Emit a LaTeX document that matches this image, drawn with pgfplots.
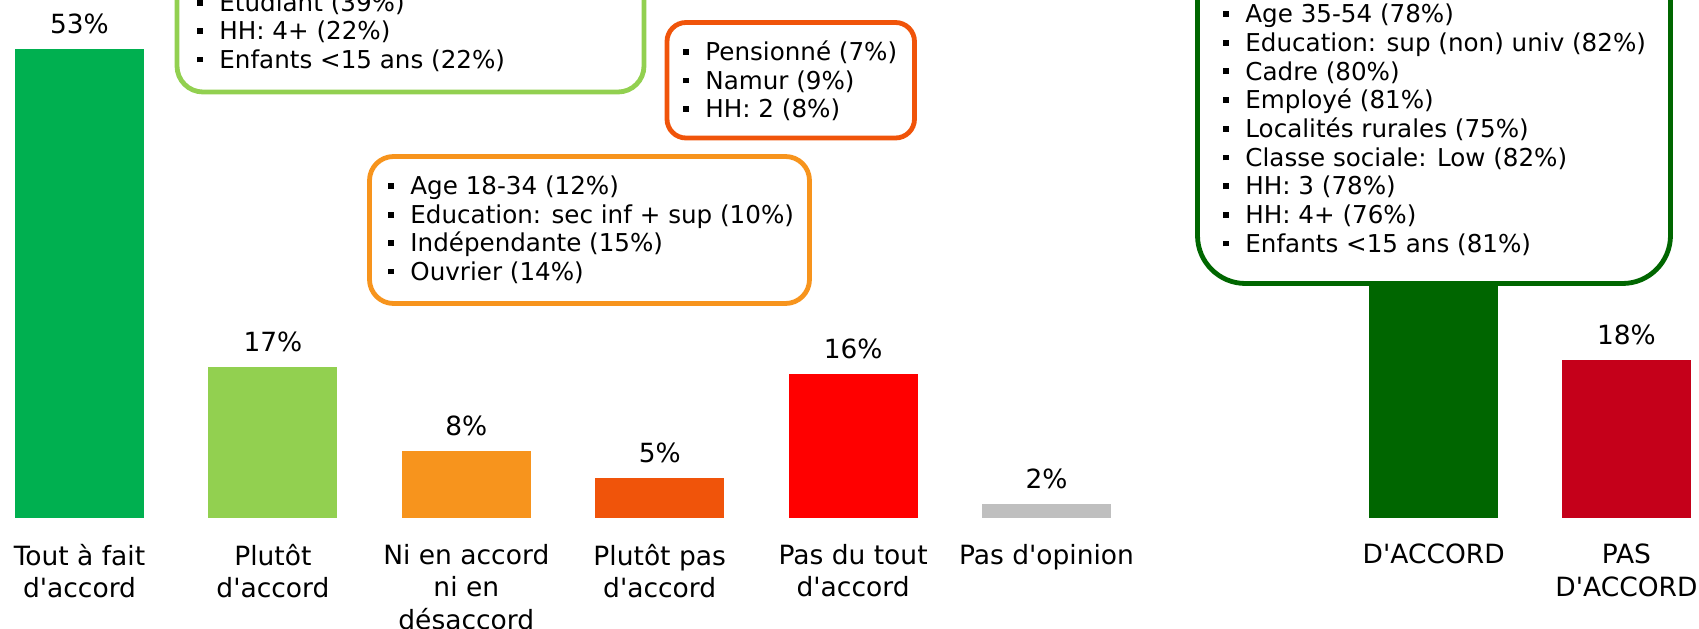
\documentclass[border=0pt]{standalone}
\usepackage{fontspec}
\setmainfont{DejaVu Sans}[Ligatures=TeXOff]
\usepackage{pgfplots}
\pgfplotsset{compat=1.18}
\definecolor{gA}{HTML}{00B050}
\definecolor{gB}{HTML}{92D050}
\definecolor{oA}{HTML}{F7941D}
\definecolor{oB}{HTML}{F0540A}
\definecolor{rA}{HTML}{FF0000}
\definecolor{gr}{HTML}{BFBFBF}
\definecolor{dg}{HTML}{006600}
\definecolor{dr}{HTML}{C5001A}
\newcommand{\bul}{\makebox[11pt][l]{\raisebox{2.9pt}{\rule{2.9pt}{2.9pt}}}}
\newcommand{\bx}{\fontsize{12.3}{14.2}\selectfont}
\pgfplotsset{
  barstyle/.style={
    ybar, bar width=64.5pt,
    scale only axis, height=259pt, ymin=0, ymax=58.54,
    axis line style={draw=none}, major tick length=0pt, ytick=\empty,
    point meta=explicit symbolic,
    nodes near coords={\pgfplotspointmeta\%},
    every node near coord/.append style={font=\fontsize{13.2}{15}\selectfont, text=black, yshift=4.2pt},
    xticklabel style={font=\fontsize{13.25}{16.25}\selectfont, align=center, anchor=north, yshift=-9.4pt, text=black},
    clip=false,
  }
}
\begin{document}
\begin{tikzpicture}
\path[use as bounding box] (0pt,0pt) rectangle (849.5pt,314pt);
\clip (0pt,0pt) rectangle (849.5pt,314pt);
% left chart
\begin{axis}[barstyle, at={(-8.6pt,55pt)}, anchor=south west, width=580.2pt,
  xmin=-0.5, xmax=5.5, xtick={0,1,2,3,4,5},
  xticklabels={{Tout à fait\\d'accord},{Plutôt\\d'accord},{Ni en accord\\ni en\\désaccord},{Plutôt pas\\d'accord},{Pas du tout\\d'accord},{Pas d'opinion}}]
\addplot[fill=gA, draw=none, bar shift=0pt] coordinates {(0,53) [53]};
\addplot[fill=gB, draw=none, bar shift=0pt] coordinates {(1,17.06) [17]};
\addplot[fill=oA, draw=none, bar shift=0pt] coordinates {(2,7.55) [8]};
\addplot[fill=oB, draw=none, bar shift=0pt] coordinates {(3,4.5) [5]};
\addplot[fill=rA, draw=none, bar shift=0pt] coordinates {(4,16.25) [16]};
\addplot[fill=gr, draw=none, bar shift=0pt] coordinates {(5,1.58) [2]};
\end{axis}
% right chart
\begin{axis}[barstyle, at={(668.675pt,55pt)}, anchor=south west, width=192.7pt,
  xmin=-0.5, xmax=1.5, xtick={0,1},
  xticklabels={{D'ACCORD},{PAS\\D'ACCORD}}]
\addplot[fill=dg, draw=none, bar shift=0pt] coordinates {(0,70) [70]};
\addplot[fill=dr, draw=none, bar shift=0pt] coordinates {(1,17.85) [18]};
\end{axis}
% boxes
\begin{scope}[x=0.5pt,y=0.5pt]
\draw[gB, line width=2.4pt, rounded corners=13pt, fill=white] (177,536) rectangle (644,730);
\node[anchor=base west, inner sep=0pt, font=\bx] at (197,616.5) {\bul Etudiant (39\%)};
\node[anchor=base west, inner sep=0pt, font=\bx] at (197,588.1) {\bul HH: 4+ (22\%)};
\node[anchor=base west, inner sep=0pt, font=\bx] at (197,559.7) {\bul Enfants <15 ans (22\%)};

\draw[oB, line width=2.4pt, rounded corners=9.5pt, fill=white] (667,490) rectangle (914.5,605.5);
\node[anchor=base west, inner sep=0pt, font=\bx] at (683,567.3) {\bul Pensionné (7\%)};
\node[anchor=base west, inner sep=0pt, font=\bx] at (683,538.7) {\bul Namur (9\%)};
\node[anchor=base west, inner sep=0pt, font=\bx] at (683,510.7) {\bul HH: 2 (8\%)};

\draw[oA, line width=2.4pt, rounded corners=12pt, fill=white] (369.5,324.5) rectangle (809.5,471.5);
\node[anchor=base west, inner sep=0pt, font=\bx] at (388,433) {\bul Age 18-34 (12\%)};
\node[anchor=base west, inner sep=0pt, font=\bx] at (388,404.6) {\bul Education: sec inf + sup (10\%)};
\node[anchor=base west, inner sep=0pt, font=\bx] at (388,376.2) {\bul Indépendante (15\%)};
\node[anchor=base west, inner sep=0pt, font=\bx] at (388,347.8) {\bul Ouvrier (14\%)};

\draw[dg, line width=2.4pt, rounded corners=24pt, fill=white] (1197.5,344.5) rectangle (1670.5,720);
\node[anchor=base west, inner sep=0pt, font=\bx] at (1223,605.3) {\bul Age 35-54 (78\%)};
\node[anchor=base west, inner sep=0pt, font=\bx] at (1223,576.6) {\bul Education: sup (non) univ (82\%)};
\node[anchor=base west, inner sep=0pt, font=\bx] at (1223,547.9) {\bul Cadre (80\%)};
\node[anchor=base west, inner sep=0pt, font=\bx] at (1223,519.2) {\bul Employé (81\%)};
\node[anchor=base west, inner sep=0pt, font=\bx] at (1223,490.5) {\bul Localités rurales (75\%)};
\node[anchor=base west, inner sep=0pt, font=\bx] at (1223,461.8) {\bul Classe sociale: Low (82\%)};
\node[anchor=base west, inner sep=0pt, font=\bx] at (1223,433.1) {\bul HH: 3 (78\%)};
\node[anchor=base west, inner sep=0pt, font=\bx] at (1223,404.4) {\bul HH: 4+ (76\%)};
\node[anchor=base west, inner sep=0pt, font=\bx] at (1223,375.7) {\bul Enfants <15 ans (81\%)};
\end{scope}
\end{tikzpicture}
\end{document}
